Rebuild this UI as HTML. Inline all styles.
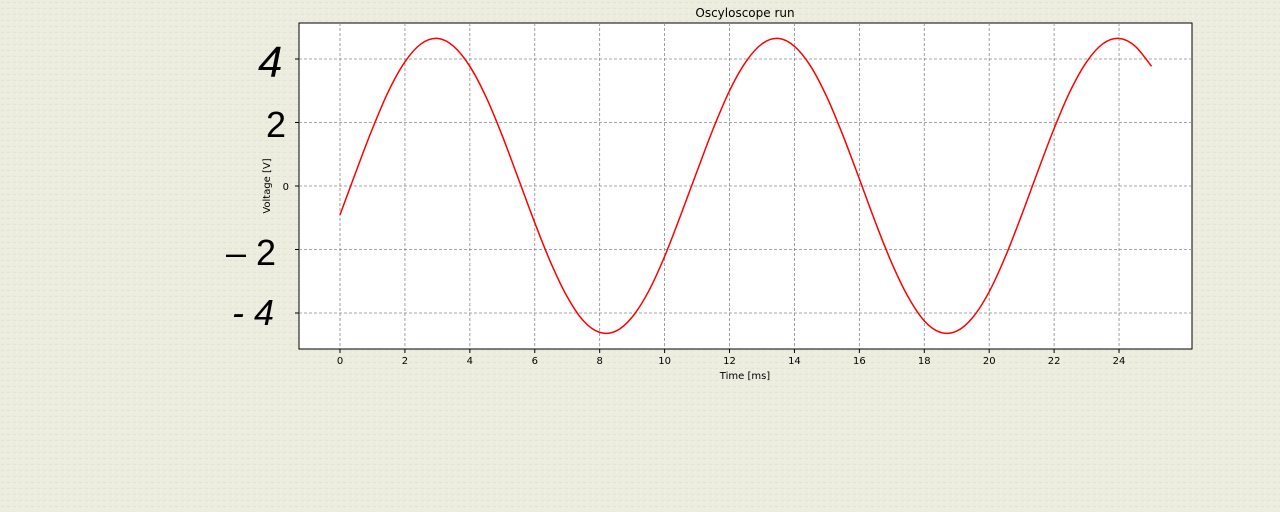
<!DOCTYPE html>
<html><head><meta charset="utf-8">
<style>
html,body{margin:0;padding:0;}
body{width:1280px;height:512px;background:#ecece0;overflow:hidden;font-family:"DejaVu Sans","Liberation Sans",sans-serif;}
svg{display:block;}
</style></head>
<body>
<svg id="chart" width="1280" height="512">
  <defs>
    <pattern id="tex" width="6" height="6" patternUnits="userSpaceOnUse">
      <rect width="6" height="6" fill="#ededdf"/>
      <rect x="1" y="2" width="3" height="1" fill="#e3e3d3"/>
      <rect x="4" y="4" width="1" height="1" fill="#f4f4ea"/>
    </pattern>
  </defs>
  <rect width="1280" height="512" fill="url(#tex)"/>
  <rect x="299" y="23" width="893" height="326" fill="#fff" stroke="#000" stroke-width="1"/>
  <g id="grid"></g>
  <g id="xticks"></g>
  <g id="yticks"></g>
  <path id="wave" fill="none" stroke="#ff0000" stroke-width="1.5"/>
  <text x="745" y="17" text-anchor="middle" font-size="12" fill="#000">Oscyloscope run</text>
  <text x="745" y="379" text-anchor="middle" font-size="10" fill="#000">Time [ms]</text>
  <text transform="translate(270,186) rotate(-90)" text-anchor="middle" font-size="10" fill="#000">Voltage [V]</text>
  <text x="289" y="190" text-anchor="end" font-size="10" fill="#000">0</text>
  <g font-family="'Liberation Sans',sans-serif" fill="#000" font-weight="normal">
    <text x="258" y="77" font-size="44" font-style="italic">4</text>
    <text x="266" y="137" font-size="36">2</text>
    <text x="226" y="265" font-size="36">– 2</text>
    <text x="232" y="325" font-size="36" font-style="italic">- 4</text>
  </g>
</svg>
<script>
const times = [];
const volts = [-0.91,0.47,1.81,3.00,3.91,4.48,4.65,4.40,3.77,2.80,1.58,0.22,-1.16,-2.43,-3.49,-4.25,-4.61,-4.57,-4.13,-3.33,-2.22,
 -0.91,0.47,1.81,3.00,3.91,4.48,4.65,4.40,3.77,2.80,1.58,0.22,-1.16,-2.43,-3.49,-4.25,-4.61,-4.57,-4.13,-3.33,-2.22,
 -0.91,0.47,1.81,3.00,3.91,4.48,4.65,4.40,3.77];
for (let i=0;i<volts.length;i++) times.push(i*0.5);
const xTickValues = [0,2,4,6,8,10,12,14,16,18,20,22,24];
const yTickValues = [-4,-2,0,2,4];

const X = t => 340 + t*32.46;
const Y = v => 186 - v*31.75;
const NS = "http://www.w3.org/2000/svg";
const grid = document.getElementById('grid');
const xt = document.getElementById('xticks');
const yt = document.getElementById('yticks');
xTickValues.forEach(v=>{
  const x = X(v);
  const g = document.createElementNS(NS,'line');
  
  
  g.setAttribute('x1',x);g.setAttribute('x2',x);g.setAttribute('y1',23);g.setAttribute('y2',349);
  g.setAttribute('stroke','#888');g.setAttribute('stroke-dasharray','3,2');g.setAttribute('stroke-width','0.8');
  grid.appendChild(g);
  const tk = document.createElementNS(NS,'line');
  
  
  tk.setAttribute('x1',x);tk.setAttribute('x2',x);tk.setAttribute('y1',349);tk.setAttribute('y2',353);tk.setAttribute('stroke','#000');
  xt.appendChild(tk);
  const lb = document.createElementNS(NS,'text');
  
  
  lb.setAttribute('x',x);lb.setAttribute('y',364);lb.setAttribute('text-anchor','middle');lb.setAttribute('font-size','10');
  lb.textContent = v;
  xt.appendChild(lb);
});
yTickValues.forEach(v=>{
  const y = Y(v);
  const g = document.createElementNS(NS,'line');
  
  
  g.setAttribute('x1',299);g.setAttribute('x2',1192);g.setAttribute('y1',y);g.setAttribute('y2',y);
  g.setAttribute('stroke','#888');g.setAttribute('stroke-dasharray','3,2');g.setAttribute('stroke-width','0.8');
  grid.appendChild(g);
  const tk = document.createElementNS(NS,'line');
  
  
  tk.setAttribute('x1',295);tk.setAttribute('x2',299);tk.setAttribute('y1',y);tk.setAttribute('y2',y);tk.setAttribute('stroke','#000');
  yt.appendChild(tk);
});
// Catmull-Rom smooth path through the data points
const P = times.map((t,i)=>[X(t),Y(volts[i])]);
let d = 'M'+P[0][0].toFixed(1)+','+P[0][1].toFixed(1);
for (let i=0;i<P.length-1;i++){
  const p0=P[Math.max(0,i-1)], p1=P[i], p2=P[i+1], p3=P[Math.min(P.length-1,i+2)];
  const c1=[p1[0]+(p2[0]-p0[0])/6, p1[1]+(p2[1]-p0[1])/6];
  const c2=[p2[0]-(p3[0]-p1[0])/6, p2[1]-(p3[1]-p1[1])/6];
  d += ' C'+c1[0].toFixed(1)+','+c1[1].toFixed(1)+' '+c2[0].toFixed(1)+','+c2[1].toFixed(1)+' '+p2[0].toFixed(1)+','+p2[1].toFixed(1);
}
document.getElementById('wave').setAttribute('d', d);
</script>
</body></html>
